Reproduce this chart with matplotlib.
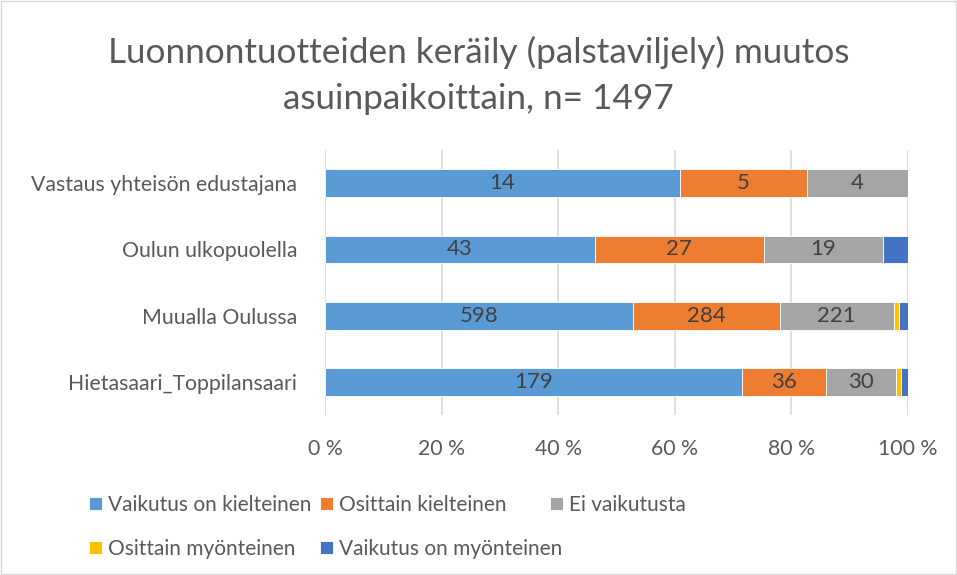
import matplotlib

matplotlib.use("Agg")
import matplotlib.pyplot as plt
import numpy as np
from matplotlib.patches import Rectangle

# %% Data
categories = ["Hietasaari_Toppilansaari", "Muualla Oulussa",
              "Oulun ulkopuolella", "Vastaus yhteisön edustajana"]
series_names = ["Vaikutus on kielteinen", "Osittain kielteinen", "Ei vaikutusta",
                "Osittain myönteinen", "Vaikutus on myönteinen"]
kielteinen = [179, 598, 43, 14]
osittain_kielteinen = [36, 284, 27, 5]
ei_vaikutusta = [30, 221, 19, 4]
osittain_myonteinen = [2, 11, 0, 0]
myonteinen = [3, 17, 4, 0]
labelled = [True, True, True, False, False]

colors = ["#5B9BD5", "#ED7D31", "#A5A5A5", "#FFC000", "#4472C4"]
text_col = "#595959"

plt.rcParams["font.family"] = ["Lato", "DejaVu Sans"]

counts = np.array([kielteinen, osittain_kielteinen, ei_vaikutusta,
                   osittain_myonteinen, myonteinen], dtype=float)
shares = counts / counts.sum(axis=0) * 100

# %% Figure
fig = plt.figure(figsize=(9.57, 5.75), dpi=100)
ax = fig.add_axes([0.3396, 0.278, 0.6092, 0.461])

y = np.arange(len(categories))
left = np.zeros(len(categories))
handles = []
for name, vals, cnt, col, lab in zip(series_names, shares, counts, colors, labelled):
    bars = ax.barh(y, vals, left=left, height=0.42, color=col, label=name,
                   edgecolor="white", linewidth=0.6, zorder=3)
    handles.append(bars)
    if lab:
        for yi, l, v, c in zip(y, left, vals, cnt):
            if c > 0:
                ax.text(l + v / 2, yi, f"{int(c)}", ha="center", va="center",
                        fontsize=16, color="#404040", zorder=4)
    left += vals

ax.set_xlim(0, 100)
ax.set_ylim(-0.5, 3.5)
ax.set_xticks(np.arange(0, 101, 20))
ax.set_xticklabels([f"{t} %" for t in range(0, 101, 20)])
ax.set_yticks(y)
ax.set_yticklabels(categories)
ax.tick_params(axis="both", length=0, colors=text_col, labelsize=15.3)
ax.tick_params(axis="y", pad=20)
ax.tick_params(axis="x", pad=17)
ax.grid(axis="x", color="#D9D9D9", linewidth=1.2, zorder=0)
for s in ax.spines.values():
    s.set_visible(False)

fig.text(0.5, 0.908, "Luonnontuotteiden keräily (palstaviljely) muutos",
         ha="center", va="center", fontsize=25.3, color=text_col)
fig.text(0.5, 0.828, "asuinpaikoittain, n= 1497",
         ha="center", va="center", fontsize=25.3, color=text_col)

# legend laid out row-wise in three equal-width columns
columns = [[0, 3], [1, 4], [2]]
col_x = [0.093, 0.334, 0.575]
for idx, x0 in zip(columns, col_x):
    fig.legend([handles[i] for i in idx], [series_names[i] for i in idx],
               loc="upper left", bbox_to_anchor=(x0, 0.139), frameon=False,
               fontsize=15, labelcolor=text_col, handlelength=0.62, handleheight=0.62,
               handletextpad=0.3, labelspacing=1.15, borderpad=0, borderaxespad=0)

fig.add_artist(Rectangle((0.001, 0.001), 0.998, 0.997, transform=fig.transFigure,
                         fill=False, edgecolor="#D9D9D9", linewidth=1))

fig.savefig("out.png", dpi=100)
